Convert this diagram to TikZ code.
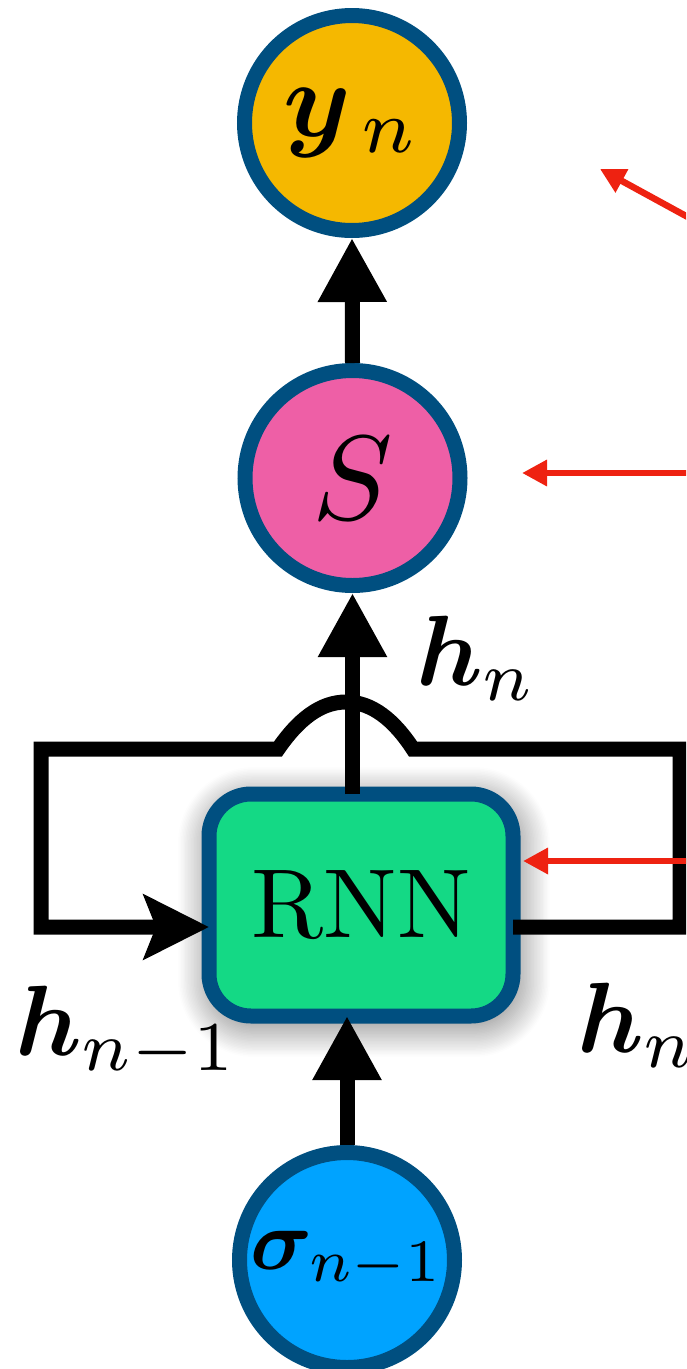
\documentclass[tikz,border=0pt]{standalone}
\usepackage{amsmath,bm,graphicx}
\usetikzlibrary{arrows.meta,shadows.blur}
\definecolor{bord}{RGB}{0,79,128}
\definecolor{yfill}{RGB}{245,184,0}
\definecolor{sfill}{RGB}{238,95,166}
\definecolor{rnnfill}{RGB}{20,217,133}
\definecolor{sigfill}{RGB}{0,163,255}
\definecolor{redc}{RGB}{238,34,17}
\begin{document}
\begin{tikzpicture}[x=1pt,y=-1pt,
  circ/.style={circle,draw=bord,line width=15pt,minimum size=215pt,inner sep=0pt},
  conn/.style={line width=15pt,draw=black},
  vtip/.style={-{Triangle[length=64pt,width=65pt]}},
  looptip/.style={-{Stealth[length=65pt,width=64pt,inset=12pt]}},
  redarrow/.style={line width=6.5pt,draw=redc,-{Triangle[length=25pt,width=25pt,fill=redc]}},
  lbl/.style={inner sep=0pt}
]
\useasboundingbox (0,0) rectangle (686,1369);
\clip (0,0) rectangle (686,1369);

% nodes
\node[circ,fill=yfill] (y) at (352,123) {\scalebox{10.8}{$\bm{y}_{\,n}$}};
\node[circ,fill=sfill] (s) at (352.5,478) {\scalebox{12}{$S$}};
\node[circ,fill=sigfill] (sig) at (347,1260) {\scalebox{8.6}{$\bm{\sigma}_{n-1}$}};
\node[rectangle,rounded corners=42pt,draw=bord,line width=15pt,fill=rnnfill,
      minimum width=304pt,minimum height=222pt,outer sep=0pt,inner sep=0pt,
      blur shadow={shadow xshift=3pt,shadow yshift=-7pt,shadow blur radius=34pt,shadow blur steps=24,shadow opacity=60}] (rnn) at (361,905) {\scalebox{9.8}{RNN}};

% helper coordinates
\coordinate (lowy) at (0,927);
\coordinate (cr1) at (680,927);
\coordinate (cr2) at (680,749);
\coordinate (hr) at (413,749);
\coordinate (hpk) at (346,702);
\coordinate (hl) at (278,749);
\coordinate (cl1) at (41,749);
\coordinate (cl2) at (41,927);

% connectors
\draw[conn,line join=miter,looptip] (rnn.east |- lowy) -- (cr1) -- (cr2) -- (hr)
  .. controls (394,720) and (372,702) .. (hpk)
  .. controls (320,702) and (298,720) .. (hl) -- (cl1) -- (cl2) -- (rnn.west |- lowy);
\draw[conn,vtip] (rnn.north -| s) -- (s.south);
\draw[conn,vtip] (s.north) -- (y.south);
\draw[conn,vtip] (sig.north) -- (sig.north |- rnn.south);

% red arrows
\coordinate (r1s) at (720,234.6);
\coordinate (r1e) at (600,169);
\coordinate (r2s) at (720,473);
\coordinate (r2e) at (522,473);
\coordinate (r3s) at (720,861);
\coordinate (r3e) at (523,861);
\draw[redarrow] (r1s) -- (r1e);
\draw[redarrow] (r2s) -- (r2e);
\draw[redarrow] (r3s) -- (r3e);

% labels
\node[lbl,anchor=base west] (hn) at (416,685) {\scalebox{10}{$\bm{h}_n$}};
\node[lbl,anchor=base west] (hnm) at (15,1055) {\scalebox{10}{$\bm{h}_{n-1}$}};
\node[lbl,anchor=base west] (hnr) at (577,1052) {\scalebox{10}{$\bm{h}_n$}};
\end{tikzpicture}
\end{document}
